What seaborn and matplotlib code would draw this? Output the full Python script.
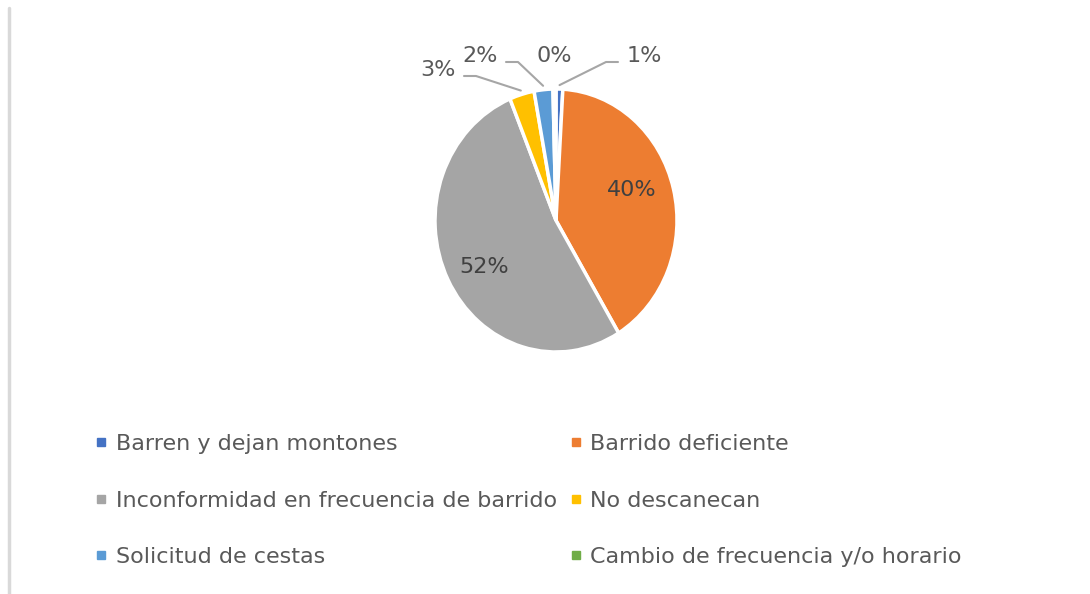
import numpy as np
import matplotlib.pyplot as plt
import seaborn as sns
from matplotlib.lines import Line2D

# data (percent of complaints)
categorias = ["Barren y dejan montones", "Barrido deficiente",
              "Inconformidad en frecuencia de barrido", "No descanecan",
              "Solicitud de cestas", "Cambio de frecuencia y/o horario"]
porcentajes = [0.9, 40.4, 52.4, 3.3, 2.5, 0.4]
colores = ["#4472C4", "#ED7D31", "#A5A5A5", "#FFC000", "#5B9BD5", "#70AD47"]

sns.set_theme(style="white")
plt.rcParams['font.family'] = ['DejaVu Sans']
txt = "#595959"

fig = plt.figure(figsize=(10.9, 5.94), dpi=100)
W, H = 1090, 594
cx, cy, rx, ry = 556, 220.5, 121, 131.5
ax = fig.add_axes([(cx - rx) / W, (H - cy - ry) / H, 2 * rx / W, 2 * ry / H])

wedges, _ = ax.pie(porcentajes, colors=colores, startangle=90, counterclock=False,
                   wedgeprops=dict(edgecolor="white", linewidth=2.5))
ax.set_xlim(-1, 1)
ax.set_ylim(-1, 1)
ax.set_aspect("auto")
ax.axis("off")

def a_datos(px, py):
    return (px - cx) / rx, (cy - py) / ry

def etiqueta(v):
    return f"{round(v):.0f}%"

# inside labels for the big slices (radius, extra angle in degrees)
dentro = {1: (0.67, 6), 2: (0.69, 4)}
for i, (rad, extra) in dentro.items():
    w = wedges[i]
    ang = np.deg2rad((w.theta1 + w.theta2) / 2 + extra)
    ax.text(rad * np.cos(ang), rad * np.sin(ang), etiqueta(porcentajes[i]),
            ha="center", va="center", fontsize=16, color="#404040")

# outside labels with leader lines (text position in figure pixels, side of the line)
afuera = {0: (644, 56, -1), 5: (554, 56, 0), 4: (480, 56, 1), 3: (438, 70, 1)}
for i, (px, py, lado) in afuera.items():
    w = wedges[i]
    ang = np.deg2rad((w.theta1 + w.theta2) / 2)
    tx, ty = a_datos(px, py)
    ax.text(tx, ty, etiqueta(porcentajes[i]), ha="center", va="center",
            fontsize=16, color=txt, clip_on=False)
    if lado != 0:
        ex, ey = 1.03 * np.cos(ang), 1.03 * np.sin(ang)
        codo = a_datos(px + lado * 38, py + 6)
        fin = a_datos(px + lado * 26, py + 6)
        ax.plot([ex, codo[0], fin[0]], [ey, codo[1], fin[1]],
                color="#A6A6A6", lw=1.5, clip_on=False)

# legend, two columns in row order
orden = [0, 2, 4, 1, 3, 5]
handles = [Line2D([], [], marker="s", ls="none", markersize=6,
                  markerfacecolor=colores[i], markeredgecolor=colores[i]) for i in orden]
fig.legend(handles, [categorias[i] for i in orden], ncol=2, loc="upper left",
           bbox_to_anchor=(0.0775, 1 - 423 / H), frameon=False, fontsize=16,
           labelcolor=txt, handlelength=0.5, handletextpad=0.4,
           columnspacing=0.6, labelspacing=1.64, borderpad=0)

# left border of the chart area
fig.add_artist(Line2D([8.5 / W, 8.5 / W], [0, 1 - 8 / H], color="#D9D9D9", lw=2.5))

fig.savefig("out.png", dpi=100)
